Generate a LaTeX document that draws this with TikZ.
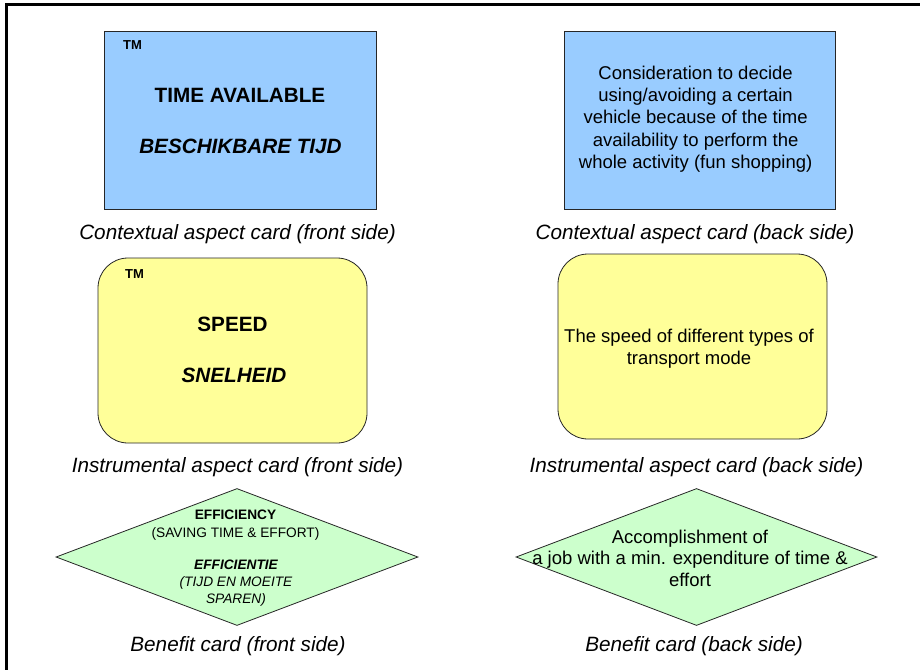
\documentclass[tikz,border=0pt]{standalone}
\usepackage{fontspec}
\setmainfont{Liberation Sans}
\usetikzlibrary{shapes.geometric}
\definecolor{cardblue}{RGB}{153,204,255}
\definecolor{cardyellow}{RGB}{255,255,153}
\definecolor{cardgreen}{RGB}{204,255,204}

\begin{document}
\begin{tikzpicture}[x=1pt,y=-1pt,
  card/.style={draw=black!85, line width=0.8pt, inner sep=0pt},
  ctxcard/.style={card, rectangle, fill=cardblue},
  inscard/.style={card, rectangle, rounded corners=30pt, fill=cardyellow},
  bencard/.style={card, diamond, fill=cardgreen},
  txt/.style={inner sep=0pt, align=center},
  tm/.style={txt, anchor=base west, font=\fontsize{13}{15}\selectfont\bfseries},
  title/.style={txt, anchor=base, font=\fontsize{20.7}{24}\selectfont\bfseries},
  titleit/.style={txt, anchor=base, font=\fontsize{20.7}{24}\selectfont\bfseries\itshape},
  caption/.style={txt, anchor=base, font=\fontsize{20.7}{24}\selectfont\itshape},
  frame/.style={line width=2.6pt, black}
]
\useasboundingbox (0,0) rectangle (920,669);

% outer frame (continues past the right and bottom edges)
\coordinate (frameBL) at (6.2,675);
\coordinate (frameTL) at (6.2,4.8);
\coordinate (frameTR) at (925,4.8);
\draw[frame] (frameBL) -- (frameTL) -- (frameTR);

% ---------- contextual aspect card ----------
\node[ctxcard, minimum width=272pt, minimum height=178pt] (ctxf) at (240,120) {};
\node[tm] (ctxftm) at (123,49.3) {TM};
\node[title] (ctxftitle) at (240,102.3) {TIME AVAILABLE};
\node[titleit] (ctxfsub) at (240.5,153.3) {BESCHIKBARE TIJD};
\node[caption] (ctxfcap) at (237.5,239.3) {Contextual aspect card (front side)};

\node[ctxcard, minimum width=271pt, minimum height=178pt] (ctxb) at (699.5,120) {};
\node[txt, font=\fontsize{18.5}{22.25}\selectfont] (ctxbtxt) at (695.6,119)
  {Consideration to decide\\using/avoiding a certain\\vehicle because of the time\\availability to perform the\\whole activity (fun shopping)};
\node[caption] (ctxbcap) at (695,239.3) {Contextual aspect card (back side)};

% ---------- instrumental aspect card ----------
\node[inscard, minimum width=269pt, minimum height=185pt] (insf) at (232.5,350.5) {};
\node[tm] (insftm) at (125,278.3) {TM};
\node[title] (insftitle) at (232.5,331.7) {SPEED};
\node[titleit] (insfsub) at (234,382.3) {SNELHEID};
\node[caption] (insfcap) at (237.5,472.3) {Instrumental aspect card (front side)};

\node[inscard, minimum width=269pt, minimum height=185pt] (insb) at (692.5,346.5) {};
\node[txt, font=\fontsize{18.5}{21.7}\selectfont] (insbtxt) at (689,348.4)
  {The speed of different types of\\transport mode};
\node[caption] (insbcap) at (696.5,472.3) {Instrumental aspect card (back side)};

% ---------- benefit card ----------
\node[bencard, minimum width=362pt, minimum height=137pt] (benf) at (237,557) {};
\node[txt, font=\fontsize{13.7}{18}\selectfont] (benftitle) at (235.5,524.9)
  {\textbf{EFFICIENCY}\\(SAVING TIME \& EFFORT)};
\node[txt, font=\fontsize{13.7}{16.65}\selectfont\itshape] (benfsub) at (236,583.2)
  {\textbf{EFFICIENTIE}\\(TIJD EN MOEITE\\SPAREN)};
\node[caption] (benfcap) at (238,651.7) {Benefit card (front side)};

\node[bencard, minimum width=361pt, minimum height=137pt] (benb) at (696.5,557) {};
\node[txt, font=\fontsize{18.5}{21.7}\selectfont] (benbtxt) at (690,558.3)
  {Accomplishment of\\a job with a min. expenditure of time \&\\effort};
\node[caption] (benbcap) at (694,651.7) {Benefit card (back side)};
\end{tikzpicture}
\end{document}
